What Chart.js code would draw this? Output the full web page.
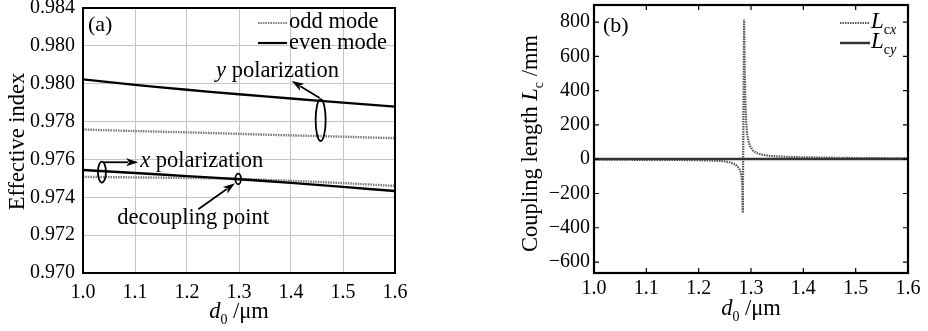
<!DOCTYPE html>
<html>
<head>
<meta charset="utf-8">
<script src="https://cdn.jsdelivr.net/npm/chart.js@4/dist/chart.umd.min.js"></script>
<style>
  body { margin: 0; background: #fff; width: 928px; height: 331px; position: relative; overflow: hidden; }
  #chartA { position: absolute; left: 0; top: 0; }
  #chartB { position: absolute; left: 490px; top: 0; }
</style>
</head>
<body>
<canvas id="chartA" width="470" height="331"></canvas>
<canvas id="chartB" width="438" height="331"></canvas>
<script>
// panel (a): effective index vs d0
const d0 = [1.0, 1.1, 1.2, 1.3, 1.4, 1.5, 1.6];
const yEven = [0.98023, 0.97994, 0.97968, 0.97944, 0.97922, 0.97900, 0.97879];
const yOdd = [0.97758, 0.97750, 0.97743, 0.97735, 0.97727, 0.97720, 0.97712];
const xEven = [0.97544, 0.97528, 0.97512, 0.97495, 0.97476, 0.97455, 0.97433];
const xOdd = [0.97508, 0.97505, 0.97502, 0.97497, 0.97487, 0.97475, 0.97460];
const xTicks = [1.0, 1.1, 1.2, 1.3, 1.4, 1.5, 1.6];
const yTicksA = [0.970, 0.972, 0.974, 0.976, 0.978, 0.980, 0.982, 0.984];
const yTickLabelsA = ["0.970", "0.972", "0.974", "0.976", "0.978", "0.980", "0.980", "0.984"];

// panel (b): coupling length vs d0
const lcxD = [1.00, 1.05, 1.10, 1.15, 1.18, 1.20, 1.22, 1.24, 1.25, 1.26, 1.267, 1.273, 1.277, 1.280,
  1.2820, 1.2833, 1.2843, 1.2868, 1.2880, 1.2893, 1.2908, 1.2925, 1.2950, 1.2984, 1.3040, 1.3110,
  1.3200, 1.3370, 1.3600, 1.4000, 1.4500, 1.5000, 1.5500, 1.6000];
const lcxVal = [-3, -3, -3.5, -4, -5, -6, -7, -10, -13, -19, -26, -38, -52, -72,
  -100, -150, -313, 816, 520, 340, 220, 150, 108, 75, 50, 36,
  27, 19, 15, 11, 9, 7, 6, 5];
const lcyD = [1.0, 1.3, 1.6];
const lcyVal = [1, 1, 1];
const yTicksB = [-600, -400, -200, 0, 200, 400, 600, 800];

const SERIF = '"Liberation Serif", "Times New Roman", serif';
const INK = "#000";
Chart.defaults.font.family = SERIF;
Chart.defaults.font.size = 20;
Chart.defaults.color = INK;

const pts = (xs, ys) => xs.map((x, i) => ({ x: x, y: ys[i] }));

function rich(ctx, x, y, parts, size, align) {
  const fontOf = p => (p.it ? "italic " : "") + (p.sub ? size * 0.62 : size) + "px " + SERIF;
  let w = 0;
  parts.forEach(p => { ctx.font = fontOf(p); p.w = ctx.measureText(p.t).width; w += p.w; });
  let cx = align === "center" ? x - w / 2 : x;
  ctx.textAlign = "left";
  ctx.textBaseline = "alphabetic";
  parts.forEach(p => {
    ctx.font = fontOf(p);
    ctx.fillText(p.t, cx, y + (p.sub ? size * 0.28 : 0));
    cx += p.w;
  });
}

function ellipse(ctx, cx, cy, rx, ry) {
  ctx.beginPath();
  ctx.ellipse(cx, cy, rx, ry, 0, 0, Math.PI * 2);
  ctx.stroke();
}

function arrow(ctx, x1, y1, x2, y2) {
  const a = Math.atan2(y2 - y1, x2 - x1), len = 12, half = 4;
  const bx = x2 - len * Math.cos(a), by = y2 - len * Math.sin(a);
  ctx.beginPath(); ctx.moveTo(x1, y1); ctx.lineTo(bx + 2 * Math.cos(a), by + 2 * Math.sin(a)); ctx.stroke();
  ctx.beginPath();
  ctx.moveTo(x2, y2);
  ctx.lineTo(bx + half * Math.sin(a), by - half * Math.cos(a));
  ctx.lineTo(bx + 3 * Math.cos(a), by + 3 * Math.sin(a));
  ctx.lineTo(bx - half * Math.sin(a), by + half * Math.cos(a));
  ctx.closePath();
  ctx.fill();
}

function fixedTicks(vals) {
  return s => { s.ticks = vals.map(v => ({ value: v })); };
}

const decoA = {
  id: "decoA",
  afterDraw(chart) {
    const { ctx, chartArea: ca, scales: { x, y } } = chart;
    const P = (vx, vy) => [x.getPixelForValue(vx), y.getPixelForValue(vy)];
    ctx.save();
    ctx.strokeStyle = INK; ctx.fillStyle = INK;
    ctx.lineWidth = 2;
    ctx.strokeRect(ca.left, ca.top, ca.right - ca.left, ca.bottom - ca.top);

    // panel label and legend
    ctx.font = "22px " + SERIF;
    ctx.fillText("(a)", ca.left + 5, ca.top + 23);
    ctx.lineWidth = 2.2;
    ctx.strokeStyle = "#7a7a7a"; ctx.setLineDash([1.5, 1]);
    ctx.beginPath(); ctx.moveTo(ca.right - 137, ca.top + 15); ctx.lineTo(ca.right - 108, ca.top + 15); ctx.stroke();
    ctx.setLineDash([]); ctx.strokeStyle = INK;
    ctx.beginPath(); ctx.moveTo(ca.right - 137, ca.top + 35); ctx.lineTo(ca.right - 108, ca.top + 35); ctx.stroke();
    rich(ctx, ca.right - 106, ca.top + 20, [{ t: "odd mode" }], 22.5, "left");
    rich(ctx, ca.right - 106, ca.top + 41, [{ t: "even mode" }], 22.5, "left");

    // annotations
    ctx.lineWidth = 1.8;
    ellipse(ctx, ...P(1.457, 0.97808), 5, 21);
    arrow(ctx, ...P(1.4552, 0.97925), ...P(1.4015, 0.98014));
    rich(ctx, ...P(1.2558, 0.98035), [{ t: "y", it: true }, { t: " polarization" }], 22.5, "left");

    ellipse(ctx, ...P(1.0364, 0.97533), 4, 10.5);
    arrow(ctx, ...P(1.0389, 0.97585), ...P(1.1061, 0.97585));
    rich(ctx, ...P(1.1099, 0.97560), [{ t: "x", it: true }, { t: " polarization" }], 22.5, "left");

    ellipse(ctx, ...P(1.2985, 0.97497), 2.8, 5.3);
    arrow(ctx, ...P(1.2218, 0.97337), ...P(1.2922, 0.97474));
    rich(ctx, ...P(1.0658, 0.97259), [{ t: "decoupling point" }], 22.5, "left");

    // axis titles
    rich(ctx, (ca.left + ca.right) / 2, 318, [{ t: "d", it: true }, { t: "0", sub: true }, { t: " /μm" }], 22.5, "center");
    ctx.translate(23.5, 141.5);
    ctx.rotate(-Math.PI / 2);
    rich(ctx, 0, 0, [{ t: "Effective index" }], 22.5, "center");
    ctx.restore();
  }
};

const decoB = {
  id: "decoB",
  afterDraw(chart) {
    const { ctx, chartArea: ca, scales: { x, y } } = chart;
    ctx.save();
    ctx.strokeStyle = INK; ctx.fillStyle = INK;
    ctx.lineWidth = 2.2;
    ctx.strokeRect(ca.left, ca.top, ca.right - ca.left, ca.bottom - ca.top);

    // inward tick marks
    ctx.lineWidth = 1.2;
    ctx.beginPath();
    x.ticks.forEach(t => {
      const px = x.getPixelForValue(t.value);
      ctx.moveTo(px, ca.bottom); ctx.lineTo(px, ca.bottom - 5);
      ctx.moveTo(px, ca.top); ctx.lineTo(px, ca.top + 5);
    });
    y.ticks.forEach(t => {
      const py = y.getPixelForValue(t.value);
      ctx.moveTo(ca.left, py); ctx.lineTo(ca.left + 5, py);
      ctx.moveTo(ca.right, py); ctx.lineTo(ca.right - 5, py);
    });
    ctx.stroke();

    // panel label and legend
    ctx.font = "22px " + SERIF;
    ctx.fillText("(b)", ca.left + 9, ca.top + 27);
    ctx.lineWidth = 2.2;
    ctx.strokeStyle = "#555"; ctx.setLineDash([1.5, 1]);
    ctx.beginPath(); ctx.moveTo(ca.right - 68, ca.top + 18); ctx.lineTo(ca.right - 38, ca.top + 18); ctx.stroke();
    ctx.setLineDash([]); ctx.strokeStyle = "#333"; ctx.lineWidth = 2.5;
    ctx.beginPath(); ctx.moveTo(ca.right - 68, ca.top + 38); ctx.lineTo(ca.right - 38, ca.top + 38); ctx.stroke();
    rich(ctx, ca.right - 37, ca.top + 23, [{ t: "L", it: true }, { t: "c", sub: true }, { t: "x", sub: true, it: true }], 23, "left");
    rich(ctx, ca.right - 37, ca.top + 43, [{ t: "L", it: true }, { t: "c", sub: true }, { t: "y", sub: true, it: true }], 23, "left");

    // axis titles
    rich(ctx, (ca.left + ca.right) / 2, 315, [{ t: "d", it: true }, { t: "0", sub: true }, { t: " /μm" }], 22.5, "center");
    ctx.translate(46.5, 143.5);
    ctx.rotate(-Math.PI / 2);
    rich(ctx, 0, 0, [{ t: "Coupling length " }, { t: "L", it: true }, { t: "c", sub: true }, { t: " /mm" }], 22.5, "center");
    ctx.restore();
  }
};

new Chart(document.getElementById("chartA"), {
  type: "line",
  data: {
    datasets: [
      { data: pts(d0, yEven), borderColor: INK, borderWidth: 2.4 },
      { data: pts(d0, xEven), borderColor: INK, borderWidth: 2.4 },
      { data: pts(d0, yOdd), borderColor: "#7a7a7a", borderWidth: 2.4, borderDash: [1.5, 1] },
      { data: pts(d0, xOdd), borderColor: "#7a7a7a", borderWidth: 2.4, borderDash: [1.5, 1] }
    ]
  },
  options: {
    responsive: false,
    animation: false,
    devicePixelRatio: 1,
    layout: { padding: { left: 0, right: 75, top: 8, bottom: 0 } },
    elements: { point: { radius: 0 }, line: { tension: 0.3, fill: false } },
    plugins: { legend: { display: false }, tooltip: { enabled: false } },
    scales: {
      x: {
        type: "linear", min: 1.0, max: 1.6,
        afterBuildTicks: fixedTicks(xTicks),
        afterFit: s => { s.height = 58; s.paddingLeft = 0; s.paddingRight = 0; },
        ticks: { callback: v => v.toFixed(1), padding: 8, maxRotation: 0, autoSkip: false },
        grid: { color: "#c4c4c4", lineWidth: 1, drawTicks: false },
        border: { display: false }
      },
      y: {
        type: "linear", min: 0.970, max: 0.984,
        afterBuildTicks: fixedTicks(yTicksA),
        afterFit: s => { s.width = 83; s.paddingTop = 0; s.paddingBottom = 0; },
        ticks: { callback: (v, i) => yTickLabelsA[i], padding: 8, autoSkip: false },
        grid: { color: "#c4c4c4", lineWidth: 1, drawTicks: false },
        border: { display: false }
      }
    }
  },
  plugins: [decoA]
});

new Chart(document.getElementById("chartB"), {
  type: "line",
  data: {
    datasets: [
      { data: pts(lcyD, lcyVal), borderColor: "#333", borderWidth: 2.6 },
      { data: pts(lcxD, lcxVal), borderColor: "#555", borderWidth: 2.2, borderDash: [1.5, 1] }
    ]
  },
  options: {
    responsive: false,
    animation: false,
    devicePixelRatio: 1,
    layout: { padding: { left: 0, right: 20, top: 5, bottom: 0 } },
    elements: { point: { radius: 0 }, line: { tension: 0, fill: false } },
    plugins: { legend: { display: false }, tooltip: { enabled: false } },
    scales: {
      x: {
        type: "linear", min: 1.0, max: 1.6,
        afterBuildTicks: fixedTicks(xTicks),
        afterFit: s => { s.height = 58; s.paddingLeft = 0; s.paddingRight = 0; },
        ticks: { callback: v => v.toFixed(1), padding: 4, maxRotation: 0, autoSkip: false },
        grid: { display: false, drawTicks: false },
        border: { display: false }
      },
      y: {
        type: "linear", min: -664, max: 900,
        afterBuildTicks: fixedTicks(yTicksB),
        afterFit: s => { s.width = 104; s.paddingTop = 0; s.paddingBottom = 0; },
        ticks: { callback: v => (v < 0 ? "\u2212" + Math.abs(v) : String(v)), padding: 4, autoSkip: false },
        grid: { display: false, drawTicks: false },
        border: { display: false }
      }
    }
  },
  plugins: [decoB]
});
</script>
</body>
</html>
